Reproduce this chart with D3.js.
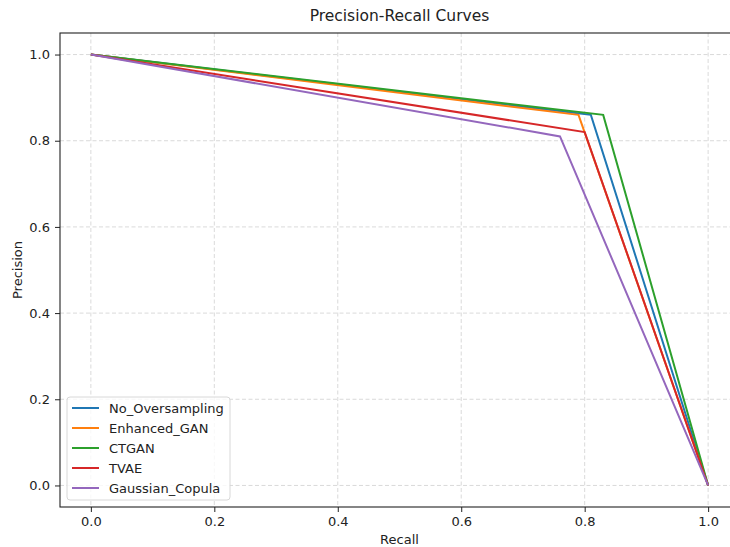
<!DOCTYPE html>
<html>
<head>
<meta charset="utf-8">
<script src="https://cdn.jsdelivr.net/npm/d3@7"></script>
<style>
  body { margin: 0; background: #fff; overflow: hidden; }
  svg { font-family: "DejaVu Sans", sans-serif; }
</style>
</head>
<body>
<div id="chart"></div>
<script>
// data: every curve goes (0,1) -> elbow -> (1,0)
var seriesNames = ["No_Oversampling", "Enhanced_GAN", "CTGAN", "TVAE", "Gaussian_Copula"];
var seriesColors = ["#1f77b4", "#ff7f0e", "#2ca02c", "#d62728", "#9467bd"];
var recallValues = [
    [0, 0.81, 1],
    [0, 0.79, 1],
    [0, 0.83, 1],
    [0, 0.80, 1],
    [0, 0.76, 1]
];
var precisionValues = [
    [1, 0.86, 0],
    [1, 0.86, 0],
    [1, 0.86, 0],
    [1, 0.82, 0],
    [1, 0.81, 0]
];
var tickValues = [0, 0.2, 0.4, 0.6, 0.8, 1.0];

var W = 730, H = 547;
var margin = {top: 33, right: -9, bottom: 40, left: 60};
var width = W - margin.left - margin.right,
    height = H - margin.top - margin.bottom;

var svg = d3.select("#chart").append("svg")
    .attr("width", W)
    .attr("height", H);

var g = svg.append("g")
    .attr("transform", "translate(" + margin.left + "," + margin.top + ")");

var x = d3.scaleLinear().domain([-0.05, 1.05]).range([0, width]);
var y = d3.scaleLinear().domain([-0.05, 1.05]).range([height, 0]);

// grid
g.append("g").selectAll("line.gx")
    .data(tickValues).enter().append("line")
    .attr("x1", d => x(d)).attr("x2", d => x(d))
    .attr("y1", 0).attr("y2", height)
    .attr("stroke", "#d0d0d0").attr("stroke-width", 0.8)
    .attr("stroke-dasharray", "4,2.5");
g.append("g").selectAll("line.gy")
    .data(tickValues).enter().append("line")
    .attr("x1", 0).attr("x2", width)
    .attr("y1", d => y(d)).attr("y2", d => y(d))
    .attr("stroke", "#d0d0d0").attr("stroke-width", 0.8)
    .attr("stroke-dasharray", "4,2.5");

// curves
var line = d3.line()
    .x(d => x(d[0]))
    .y(d => y(d[1]));

seriesNames.forEach(function (name, i) {
    var pts = recallValues[i].map((r, j) => [r, precisionValues[i][j]]);
    g.append("path")
        .datum(pts)
        .attr("d", line)
        .attr("fill", "none")
        .attr("stroke", seriesColors[i])
        .attr("stroke-width", 2);
});

// axes
var xAxis = g.append("g")
    .attr("transform", "translate(0," + height + ")")
    .call(d3.axisBottom(x).tickValues(tickValues).tickFormat(d3.format(".1f")).tickSize(5).tickPadding(5));
var yAxis = g.append("g")
    .call(d3.axisLeft(y).tickValues(tickValues).tickFormat(d3.format(".1f")).tickSize(5).tickPadding(5));
[xAxis, yAxis].forEach(function (a) {
    a.select(".domain").remove();
    a.selectAll("text").attr("font-size", 13).attr("fill", "#222").attr("font-family", "DejaVu Sans");
    a.selectAll("line").attr("stroke", "#222");
});

// frame
g.append("rect")
    .attr("width", width).attr("height", height)
    .attr("fill", "none").attr("stroke", "#222").attr("stroke-width", 1.1);

// labels
svg.append("text")
    .attr("x", margin.left + width / 2).attr("y", 21)
    .attr("text-anchor", "middle").attr("font-size", 15.5).attr("fill", "#222")
    .text("Precision-Recall Curves");
svg.append("text")
    .attr("x", margin.left + width / 2).attr("y", 544)
    .attr("text-anchor", "middle").attr("font-size", 13).attr("fill", "#222")
    .text("Recall");
svg.append("text")
    .attr("transform", "translate(22," + (margin.top + height / 2) + ") rotate(-90)")
    .attr("text-anchor", "middle").attr("font-size", 13).attr("fill", "#222")
    .text("Precision");

// legend
var legend = svg.append("g").attr("transform", "translate(67,397)");
legend.append("rect")
    .attr("width", 163).attr("height", 103).attr("rx", 3)
    .attr("fill", "#fff").attr("fill-opacity", 0.8)
    .attr("stroke", "#d8d8d8");
seriesNames.forEach(function (name, i) {
    var row = legend.append("g").attr("transform", "translate(0," + (11 + i * 20) + ")");
    row.append("line")
        .attr("x1", 5).attr("x2", 32)
        .attr("stroke", seriesColors[i]).attr("stroke-width", 2);
    row.append("text")
        .attr("x", 42).attr("y", 4.5)
        .attr("font-size", 13).attr("fill", "#222")
        .text(name);
});
</script>
</body>
</html>
